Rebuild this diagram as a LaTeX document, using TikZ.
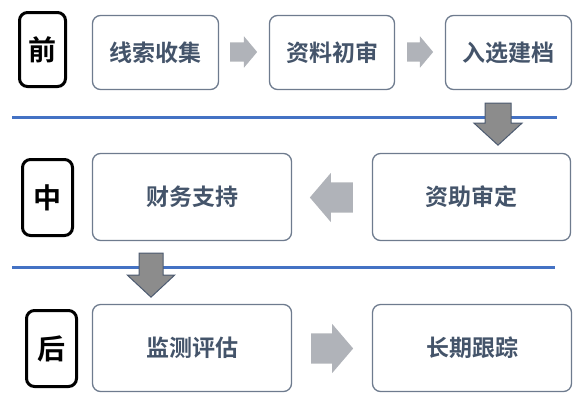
\documentclass[tikz,border=0pt]{standalone}
\usepackage{fontspec}
\newfontfamily\cjk{Noto Sans CJK SC}[BoldFont={Noto Sans CJK SC Bold}]
\usetikzlibrary{calc}
\usetikzlibrary{shapes.arrows}
\definecolor{boxline}{HTML}{6E7B8E}
\definecolor{boxtext}{HTML}{44546A}
\definecolor{sepblue}{HTML}{4472C4}
\definecolor{lightarr}{HTML}{B0B3B9}
\definecolor{darkarr}{HTML}{8C8C8C}
\definecolor{darkedge}{HTML}{4C5A70}
\tikzset{
	stepbox/.style={draw=boxline,line width=1.3pt,rounded corners=8pt,fill=white,
		text=boxtext,inner sep=0pt,font=\cjk\bfseries\fontsize{23}{23}\selectfont},
	phase/.style={draw=black,line width=3pt,rounded corners=8pt,inner sep=0pt,
		font=\cjk\bfseries\fontsize{28}{28}\selectfont},
	flow/.style={single arrow,fill=lightarr,inner xsep=0pt,outer sep=0pt,anchor=tail},
	drop/.style={single arrow,fill=darkarr,draw=darkedge,line width=1pt,
		inner xsep=0pt,outer sep=0pt,rotate=-90,anchor=tail},
	sep/.style={draw=sepblue,line width=3pt}
}

\begin{document}
\begin{tikzpicture}[x=1pt,y=-1pt]
	\useasboundingbox (0,0) rectangle (585,405);
	
	% SEPARATORS
	\draw[sep] (12,117) -- (557,117);
	\draw[sep] (12,267) -- (555,267);
	
	% PHASES
	\node[phase,minimum width=46,minimum height=74] (pre) at (42.5,49.5) {前};
	\node[phase,minimum width=50,minimum height=76] (mid) at (47.5,197.5) {中};
	\node[phase,minimum width=50,minimum height=76] (post) at (51.5,348.5) {后};
	
	% STEPS
	\node[stepbox,minimum width=126,minimum height=74] (clue) at (155.5,52.5) {线索收集};
	\node[stepbox,minimum width=125,minimum height=74] (review) at (332,52.5) {资料初审};
	\node[stepbox,minimum width=126,minimum height=74] (archive) at (508.5,52.5) {入选建档};
	\node[stepbox,minimum width=198,minimum height=87] (audit) at (471.5,197) {资助审定};
	\node[stepbox,minimum width=199,minimum height=87] (fund) at (192,197) {财务支持};
	\node[stepbox,minimum width=199,minimum height=87] (monitor) at (192,348) {监测评估};
	\node[stepbox,minimum width=199,minimum height=87] (track) at (472,348) {长期跟踪};
	
	% ARROWS
	\node[flow,minimum height=27,inner ysep=9.5pt,single arrow head extend=6,
	single arrow tip angle=100] (a1) at ($(clue.east)+(11,-0.5)$) {};
	\node[flow,minimum height=26,inner ysep=9.5pt,single arrow head extend=6,
	single arrow tip angle=100] (a2) at ($(review.east)+(12,-0.5)$) {};
	\node[flow,minimum height=43,inner ysep=15pt,single arrow head extend=9.5,
	single arrow tip angle=99,rotate=180] (a3) at ($(audit.west)+(-19,0.5)$) {};
	\node[flow,minimum height=42,inner ysep=15pt,single arrow head extend=9.5,
	single arrow tip angle=99] (a4) at ($(monitor.east)+(19,0.5)$) {};
	
	\node[drop,minimum height=42,inner ysep=12.5pt,single arrow head extend=11,
	single arrow tip angle=95] (d1) at ($(archive.south)+(-10.5,13)$) {};
	\node[drop,minimum height=44,inner ysep=11.5pt,single arrow head extend=11.5,
	single arrow tip angle=94] (d2) at ($(fund.south)+(-41,12)$) {};
\end{tikzpicture}
\end{document}
